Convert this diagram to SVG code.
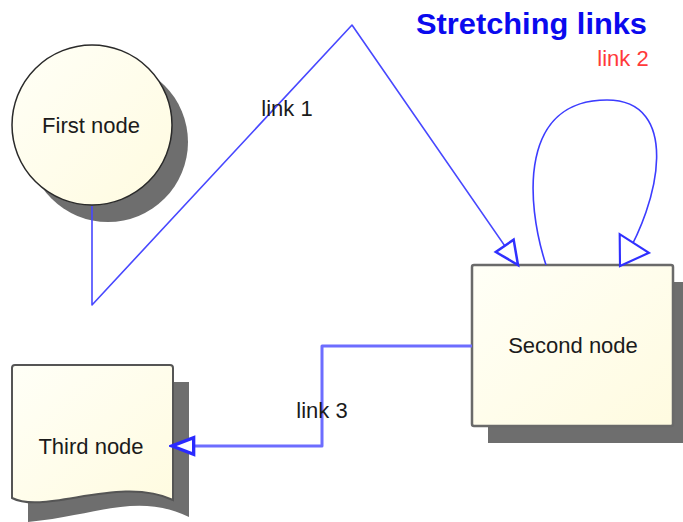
<svg xmlns="http://www.w3.org/2000/svg" width="683" height="522" viewBox="0 0 683 522">
  <style>
    .shadow { fill: #6e6e6e; }
    .node-fill { fill: url(#cream); }
    .label { font-family: "Liberation Sans", Arial, sans-serif; font-size: 22px; fill: #1b1b1b; text-anchor: middle; }
    .link { fill: none; stroke-linejoin: round; }
    .title { font-family: "Liberation Sans", Arial, sans-serif; font-weight: bold; font-size: 30px; fill: #0a0aee; }
  </style>
  <defs>
    <linearGradient id="cream" x1="0" y1="0" x2="1" y2="1">
      <stop offset="0" stop-color="#fffff7"/>
      <stop offset="1" stop-color="#fffbe0"/>
    </linearGradient>
    <marker id="arrowThin" markerUnits="userSpaceOnUse" markerWidth="30" markerHeight="30" viewBox="-16 -8 18 16" refX="0" refY="0" orient="auto">
      <path d="M0,0 L-14,-6.5 L-14,6.5 Z" fill="#ffffff" stroke="#3030ff" stroke-width="1.5" stroke-linejoin="miter"/>
    </marker>
    <marker id="arrowWide" markerUnits="userSpaceOnUse" markerWidth="40" markerHeight="40" viewBox="-22 -15 24 30" refX="0" refY="0" orient="auto">
      <path d="M0,0 L-20,-13 L-20,13 Z" fill="#ffffff" stroke="#3030ff" stroke-width="1.6" stroke-linejoin="miter"/>
    </marker>
    <marker id="arrowBold" markerUnits="userSpaceOnUse" markerWidth="30" markerHeight="30" viewBox="-16 -7 18 14" refX="0" refY="0" orient="auto">
      <path d="M0,0 L-13,-5 L-13,5 Z" fill="#ffffff" stroke="#2a2aff" stroke-width="2" stroke-linejoin="miter"/>
    </marker>
  </defs>

  <rect width="683" height="522" fill="#ffffff"/>

  <text class="title" x="416" y="34" textLength="231" lengthAdjust="spacingAndGlyphs">Stretching links</text>

  <!-- nodes -->
  <g id="first-node">
    <circle class="shadow" cx="108" cy="142" r="80"/>
    <circle class="node-fill" cx="92" cy="125" r="80" stroke="#2a2a2a" stroke-width="1.5"/>
    <text class="label" x="91" y="133">First node</text>
  </g>

  <g id="second-node">
    <rect class="shadow" x="488" y="282" width="201" height="161"/>
    <rect class="node-fill" x="472" y="265" width="201" height="161" rx="2" stroke="#6a6a6a" stroke-width="2.5"/>
    <text class="label" x="573" y="353">Second node</text>
  </g>

  <g id="third-node">
    <path class="shadow" d="M28,382 H189 V517 C136,492 100,515 28,522 Z"/>
    <path class="node-fill" d="M15,365 H170 Q173,365 173,368 V500 C120,475 45,515 12,498 V368 Q12,365 15,365 Z" stroke="#555555" stroke-width="2"/>
    <text class="label" x="91" y="454">Third node</text>
  </g>

  <!-- connectors -->
  <g id="links">
    <polyline class="link" points="92,206 92,305 352,25 518,265" stroke="#4848ff" stroke-width="1.6" marker-end="url(#arrowThin)"/>
    <path class="link" d="M546,265 C525,200 520,100 607,100 C680,100 662,200 620,266" stroke="#3c3cff" stroke-width="1.6" marker-end="url(#arrowWide)"/>
    <path class="link" d="M472,346 H322 V446 H172" stroke="#6d6dff" stroke-width="3" marker-end="url(#arrowBold)"/>
    <text class="label" x="287" y="116">link 1</text>
    <text class="label" x="623" y="66" style="fill:#ff3a3a">link 2</text>
    <text class="label" x="322" y="418">link 3</text>
  </g>
</svg>
